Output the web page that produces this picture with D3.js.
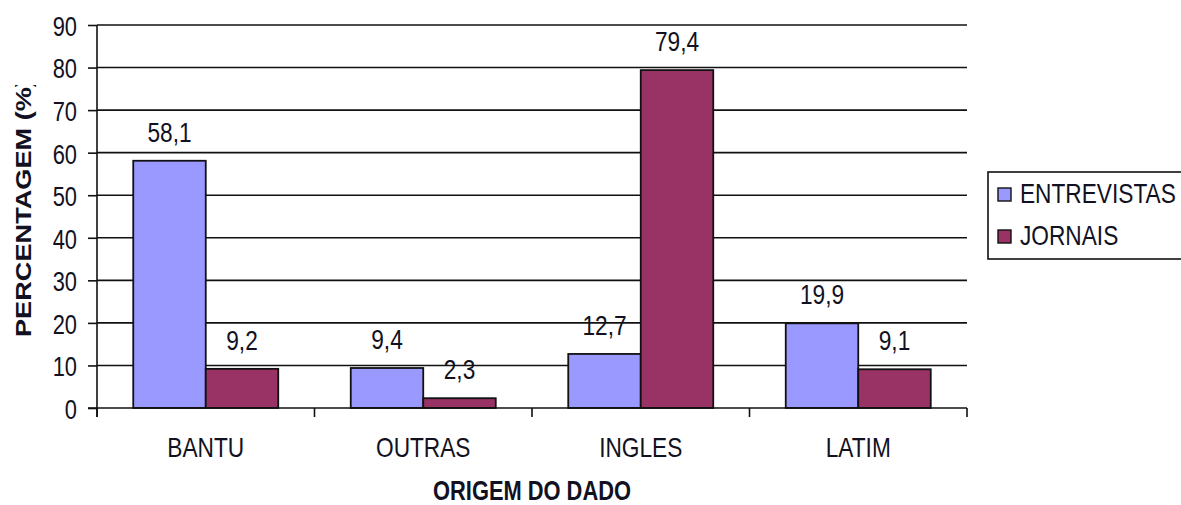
<!DOCTYPE html>
<html>
<head>
<meta charset="utf-8">
<script src="https://cdn.jsdelivr.net/npm/d3@7"></script>
<style>
  html, body { margin: 0; padding: 0; background: #fff; }
  svg { display: block; }
  text { font-family: "Liberation Sans", Arial, sans-serif; fill: #111122; }
</style>
</head>
<body>
<svg id="chart" width="1181" height="505"></svg>
<script>
// Origin of the words, by source
const categories = ["BANTU", "OUTRAS", "INGLES", "LATIM"];
const seriesNames = ["ENTREVISTAS", "JORNAIS"];
const entrevistas = [58.1, 9.4, 12.7, 19.9];
const jornais = [9.2, 2.3, 79.4, 9.1];
const yTicks = [0, 10, 20, 30, 40, 50, 60, 70, 80, 90];
const seriesColors = ["#9999FF", "#993366"];

const rows = categories.map((c, i) => ({ cat: c, values: [entrevistas[i], jornais[i]] }));

const svg = d3.select("#chart");
const plot = { left: 97, right: 967, top: 25, bottom: 408 };
const squeeze = 0.81; // horizontal text is drawn narrow, vertical text elongated

const fmt = d3.formatLocale({ decimal: ",", thousands: ".", grouping: [3], currency: ["", ""] }).format(".1f");

const x0 = d3.scaleBand().domain(categories).range([plot.left, plot.right]).paddingInner(0).paddingOuter(0);
const x1 = d3.scaleBand().domain(seriesNames).range([0, x0.bandwidth()]).paddingInner(0).paddingOuter(0.5);
const y = d3.scaleLinear().domain([0, 90]).range([plot.bottom, plot.top]);

// horizontal gridlines
svg.append("g")
  .selectAll("line")
  .data(yTicks.filter(t => t > 0))
  .join("line")
  .attr("x1", plot.left).attr("x2", plot.right)
  .attr("y1", d => y(d)).attr("y2", d => y(d))
  .attr("stroke", "#111").attr("stroke-width", 1.6);

// y axis
const yAxis = svg.append("g")
  .attr("transform", `translate(${plot.left},0)`)
  .call(d3.axisLeft(y).tickValues(yTicks).tickSize(9).tickSizeOuter(0).tickFormat(d3.format("d")));
yAxis.select(".domain").remove();
yAxis.selectAll(".tick line").attr("stroke", "#111").attr("stroke-width", 1.6);
yAxis.selectAll(".tick text")
  .attr("x", null).attr("dy", null)
  .attr("dominant-baseline", "central")
  .attr("text-anchor", "end")
  .attr("font-size", 27)
  .attr("transform", `translate(-20,1) scale(${squeeze},1)`);
svg.append("line")
  .attr("x1", plot.left).attr("x2", plot.left)
  .attr("y1", plot.top).attr("y2", plot.bottom + 9)
  .attr("stroke", "#111").attr("stroke-width", 1.6);

// bars
const groups = svg.append("g")
  .selectAll("g")
  .data(rows)
  .join("g")
  .attr("transform", d => `translate(${x0(d.cat)},0)`);

groups.selectAll("rect")
  .data(d => d.values.map((v, i) => ({ key: seriesNames[i], value: v, i })))
  .join("rect")
  .attr("x", d => x1(d.key))
  .attr("y", d => y(d.value))
  .attr("width", x1.bandwidth())
  .attr("height", d => y(0) - y(d.value))
  .attr("fill", d => seriesColors[d.i])
  .attr("stroke", "#111")
  .attr("stroke-width", 1.8);

// value labels
groups.selectAll("text.value")
  .data(d => d.values.map((v, i) => ({ key: seriesNames[i], value: v })))
  .join("text")
  .attr("class", "value")
  .attr("text-anchor", "middle")
  .attr("font-size", 28)
  .attr("transform", d => `translate(${x1(d.key) + x1.bandwidth() / 2},${y(d.value) - 19}) scale(${squeeze},1)`)
  .text(d => fmt(d.value));

// x axis baseline and category ticks
const xAxis = svg.append("g")
  .attr("transform", `translate(0,${plot.bottom})`);
xAxis.append("line")
  .attr("x1", plot.left - 9).attr("x2", plot.right)
  .attr("stroke", "#111").attr("stroke-width", 1.6);
xAxis.selectAll("line.tick")
  .data(categories.map(c => x0(c)).concat([plot.right]))
  .join("line")
  .attr("class", "tick")
  .attr("x1", d => d).attr("x2", d => d)
  .attr("y1", 0).attr("y2", 9)
  .attr("stroke", "#111").attr("stroke-width", 1.6);
xAxis.selectAll("text")
  .data(categories)
  .join("text")
  .attr("text-anchor", "middle")
  .attr("font-size", 28)
  .attr("transform", d => `translate(${x0(d) + x0.bandwidth() / 2},49) scale(${squeeze},1)`)
  .text(d => d);

// axis titles
svg.append("text")
  .attr("text-anchor", "middle")
  .attr("font-size", 27)
  .attr("font-weight", "bold")
  .attr("transform", `translate(${(plot.left + plot.right) / 2},500) scale(${squeeze},1)`)
  .text("ORIGEM DO DADO");

svg.append("clipPath").attr("id", "ytitle-clip")
  .append("rect").attr("x", 0).attr("y", 85).attr("width", 60).attr("height", 400);
svg.append("g").attr("clip-path", "url(#ytitle-clip)")
  .append("text")
  .attr("text-anchor", "start")
  .attr("font-size", 22)
  .attr("font-weight", "bold")
  .attr("transform", `translate(31,337) rotate(-90) scale(${1 / squeeze},1)`)
  .text("PERCENTAGEM (%)");

// legend
const legend = svg.append("g");
legend.append("rect")
  .attr("x", 988).attr("y", 172).attr("width", 240).attr("height", 87)
  .attr("fill", "#fff").attr("stroke", "#111").attr("stroke-width", 1.6);
const items = legend.selectAll("g.item")
  .data(seriesNames)
  .join("g")
  .attr("class", "item")
  .attr("transform", (d, i) => `translate(998,${188 + i * 42})`);
items.append("rect")
  .attr("width", 13).attr("height", 13)
  .attr("fill", (d, i) => seriesColors[i])
  .attr("stroke", "#111").attr("stroke-width", 1.4);
items.append("text")
  .attr("font-size", 28)
  .attr("transform", `translate(22,15) scale(${squeeze},1)`)
  .text(d => d);
</script>
</body>
</html>
